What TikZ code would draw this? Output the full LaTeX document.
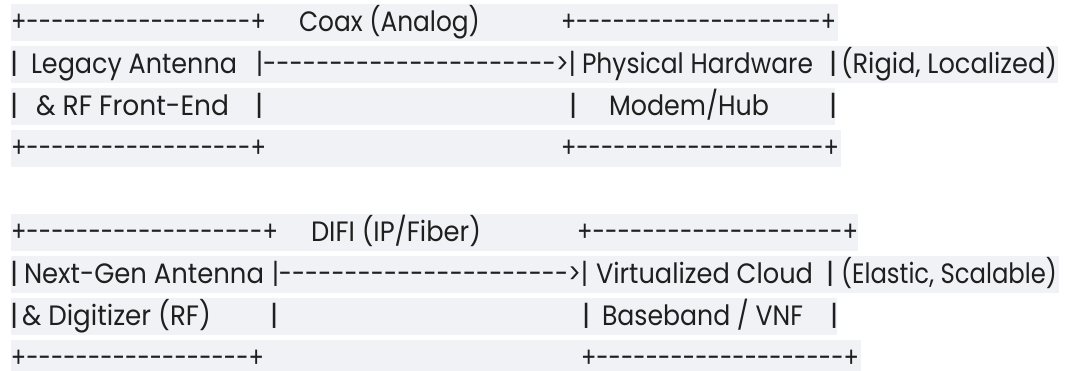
\documentclass[tikz,border=0pt]{standalone}
\usepackage{fontspec}
\setmainfont{Poppins}[Ligatures=TeXOff]
\usepackage{graphicx}
\ExplSyntaxOn
\cs_new_eq:NN \Rep \prg_replicate:nn
\ExplSyntaxOff
\definecolor{bandfill}{RGB}{240,242,246}
\definecolor{inkgray}{RGB}{31,31,31}
% stretch a piece of text horizontally to a given width, keeping its height
\newcommand\fitw[2]{\resizebox{#1pt}{\height}{#2}}
% same, with no depth below the baseline (last row sits on the edge)
\newcommand\fitwflat[2]{\raisebox{0pt}[\height][0pt]{\resizebox{#1pt}{\height}{#2}}}
\tikzset{
  seg/.style={anchor=base west, inner sep=0pt, outer sep=0pt, text=inkgray,
              font=\fontsize{28}{32}\selectfont},
  hl/.style={fill=bandfill},
}
\begin{document}
\begin{tikzpicture}[x=1pt,y=-1pt]
\useasboundingbox (0,0) rectangle (1081,370);
\fill[white] (0,0) rectangle (1081,370);

% line bands
\fill[hl] (11,4)   rectangle (838,41);
\fill[hl] (11,46)  rectangle (1058,83);
\fill[hl] (11,88)  rectangle (835,125);
\fill[hl] (11,130) rectangle (841,167);
\fill[hl] (11,214) rectangle (858,251);
\fill[hl] (11,256) rectangle (1059,293);
\fill[hl] (11,298) rectangle (837,335);
\fill[hl] (11,340) rectangle (861,377);

% --- legacy chain ---
\node[seg] (t1l) at (11,31)  {\fitw{255}{+\Rep{18}{-}+}};
\node[seg] (coax) at (299,31) {\fitw{181}{Coax (Analog)}};
\node[seg] (t1r) at (561,31) {\fitw{275}{+\Rep{20}{-}+}};

\node[seg] (l2a) at (10,73)  {|};
\node[seg] (legacy) at (31,73) {\fitw{206}{Legacy Antenna}};
\node[seg] (arrow1) at (256,73) {\fitw{320}{|\Rep{22}{-}>|}};
\node[seg] (phys) at (582,73) {\fitw{231}{Physical Hardware}};
\node[seg] (l2b) at (829,73) {|};
\node[seg] (rigid) at (841,73) {\fitw{216}{(Rigid, Localized)}};

\node[seg] (l3a) at (10,115)  {|};
\node[seg] (rf) at (36,115)   {\fitw{193}{\& RF Front-End}};
\node[seg] (l3b) at (255,115) {|};
\node[seg] (l3c) at (569,115) {|};
\node[seg] (modem) at (609,115) {\fitw{160}{Modem/Hub}};
\node[seg] (l3d) at (829,115) {|};

\node[seg] (b1l) at (11,157)  {\fitw{255}{+\Rep{18}{-}+}};
\node[seg] (b1r) at (561,157) {\fitw{278}{+\Rep{20}{-}+}};

% --- next-gen chain ---
\node[seg] (t2l) at (11,241)  {\fitw{267}{+\Rep{19}{-}+}};
\node[seg] (difi) at (311,241) {\fitw{170}{DIFI (IP/Fiber)}};
\node[seg] (t2r) at (577,241) {\fitw{281}{+\Rep{20}{-}+}};

\node[seg] (l6a) at (10,283)  {|};
\node[seg] (nextgen) at (24,283) {\fitw{240}{Next-Gen Antenna}};
\node[seg] (arrow2) at (272,283) {\fitw{316}{|\Rep{22}{-}>|}};
\node[seg] (cloud) at (596,283) {\fitw{217}{Virtualized Cloud}};
\node[seg] (l6b) at (826,283) {|};
\node[seg] (elastic) at (841,283) {\fitw{216}{(Elastic, Scalable)}};

\node[seg] (l7a) at (10,325)  {|};
\node[seg] (digit) at (22,325) {\fitw{189}{\& Digitizer (RF)}};
\node[seg] (l7b) at (270,325) {|};
\node[seg] (l7c) at (582,325) {|};
\node[seg] (vnf) at (602,325) {\fitw{201}{Baseband / VNF}};
\node[seg] (l7d) at (830,325) {|};

\node[seg] (b2l) at (11,367)  {\fitwflat{253}{+\Rep{18}{-}+}};
\node[seg] (b2r) at (581,367) {\fitwflat{278}{+\Rep{20}{-}+}};
\end{tikzpicture}
\end{document}
